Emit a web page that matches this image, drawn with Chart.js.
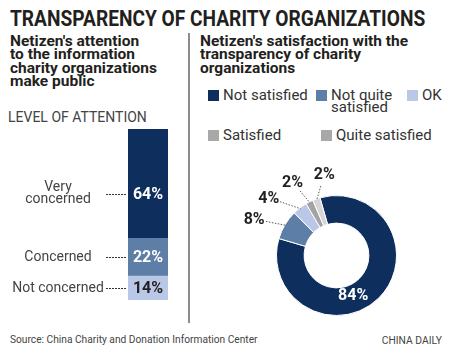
<!DOCTYPE html>
<html>
<head>
<meta charset="utf-8">
<script src="https://cdn.jsdelivr.net/npm/chart.js@4.4.1/dist/chart.umd.min.js"></script>
<style>
  html, body { margin: 0; padding: 0; background: #fff; }
  body { width: 450px; height: 354px; position: relative; overflow: hidden; font-family: Roboto, "Open Sans", sans-serif; color: #231f20; }
  .abs { position: absolute; }
  #title { left: 10px; top: 6px; font-size: 22px; font-weight: 700; white-space: nowrap; transform-origin: 0 0; }
  .sub { top: 35px; font-size: 15.5px; font-weight: 700; line-height: 13.4px; white-space: nowrap; }
  #subLeft { left: 10px; }
  #subRight { left: 200px; }
  #divider { left: 188px; top: 33px; width: 2px; height: 290px; background: #8c8c8c; }
  #levelTitle { left: 8px; top: 109px; font-size: 14px; color: #444; white-space: nowrap; }
  .leg { position: absolute; font-size: 15px; line-height: 12px; color: #333; white-space: nowrap; }
  .leg i { position: absolute; left: 0; top: 1px; width: 11px; height: 11px; }
  .leg span { position: absolute; left: 15px; top: 0; }
  #source { left: 10px; top: 334px; font-size: 10.2px; color: #444; white-space: nowrap; }
  #brand { right: 8px; top: 334px; font-size: 10.3px; color: #444; white-space: nowrap; }
  #barWrap { left: 0; top: 129px; width: 188px; height: 171px; }
  #pieWrap { left: 192px; top: 150px; width: 258px; height: 180px; }
</style>
</head>
<body>
<div id="title" class="abs">TRANSPARENCY OF CHARITY ORGANIZATIONS</div>
<div id="subLeft" class="abs sub">Netizen's attention<br>to the information<br>charity organizations<br>make public</div>
<div id="subRight" class="abs sub">Netizen's satisfaction with the<br>transparency of charity<br>organizations</div>
<div id="divider" class="abs"></div>
<div id="levelTitle" class="abs">LEVEL OF ATTENTION</div>
<div id="legend"></div>
<div id="barWrap" class="abs"><canvas id="barChart" width="188" height="171"></canvas></div>
<div id="pieWrap" class="abs"><canvas id="pieChart" width="258" height="180"></canvas></div>
<div id="source" class="abs">Source: China Charity and Donation Information Center</div>
<div id="brand" class="abs">CHINA DAILY</div>

<script>
// attention levels, top of bar to bottom
const attentionLevels = [['Very', 'concerned'], ['Concerned'], ['Not concerned']];
const attentionValues = [64, 22, 14];

// satisfaction split
const satisfactionLabels = ['Not satisfied', ['Not quite', 'satisfied'], 'OK', 'Satisfied', 'Quite satisfied'];
const satisfactionValues = [84, 8, 4, 2, 2];

const barColors = ['#0e2f5e', '#5d7ea6', '#b8c8e6'];
const barLabelColors = ['#fff', '#fff', '#231f20'];
const pieColors = ['#0e2f5e', '#5d7ea6', '#b8c8e6', '#a3a3a3', '#d6d6d6'];
const legendColors = ['#0e2f5e', '#5d7ea6', '#b8c8e6', '#a8a8a8', '#a8a8a8'];
const legendPos = [[208, 89], [316, 89], [407, 89], [208, 129], [321, 129]];

// squeeze the title to the reference width (font is wider than the original)
const titleEl = document.getElementById('title');
titleEl.style.transform = 'scaleX(' + (415 / titleEl.scrollWidth) + ')';

// html legend
const legendEl = document.getElementById('legend');
satisfactionLabels.forEach((lbl, i) => {
  const d = document.createElement('div');
  d.className = 'leg';
  d.style.left = legendPos[i][0] + 'px';
  d.style.top = legendPos[i][1] + 'px';
  const text = Array.isArray(lbl) ? lbl.join('<br>') : lbl;
  d.innerHTML = '<i style="background:' + legendColors[i] + '"></i><span>' + text + '</span>';
  legendEl.appendChild(d);
});

const font = 'Roboto, "Open Sans", sans-serif';

// labels and dotted leaders for the stacked bar
const barLabels = {
  id: 'barLabels',
  afterDatasetsDraw(chart) {
    const ctx = chart.ctx;
    const n = attentionValues.length;
    const shift = [10, 0, 0];
    ctx.save();
    for (let i = 0; i < n; i++) {
      // datasets are stacked bottom-up, so reverse index
      const meta = chart.getDatasetMeta(n - 1 - i);
      const bar = meta.data[0];
      const left = bar.x - bar.width / 2;
      const y = (bar.y + bar.base) / 2 + shift[i];
      ctx.font = 'bold 16px ' + font;
      ctx.fillStyle = barLabelColors[i];
      ctx.textAlign = 'center';
      ctx.textBaseline = 'middle';
      ctx.fillText(attentionValues[i] + '%', bar.x, y + 1);

      const lines = attentionLevels[i];
      ctx.font = '14px ' + font;
      ctx.fillStyle = '#444';
      const lh = 12;
      let maxRight = 0;
      lines.forEach((ln, k) => {
        const ly = y + (k - (lines.length - 1) / 2) * lh;
        ctx.fillText(ln, 58, ly);
        maxRight = Math.max(maxRight, 58 + ctx.measureText(ln).width / 2);
      });
      ctx.strokeStyle = '#333';
      ctx.lineWidth = 1;
      ctx.setLineDash([2, 1]);
      ctx.beginPath();
      ctx.moveTo(Math.max(106, maxRight + 1), Math.round(y) + 0.5);
      ctx.lineTo(left - 1, Math.round(y) + 0.5);
      ctx.stroke();
    }
    ctx.restore();
  }
};

new Chart(document.getElementById('barChart'), {
  type: 'bar',
  data: {
    labels: [''],
    datasets: attentionLevels.map((lvl, i) => ({
      label: lvl.join(' '),
      data: [attentionValues[i]],
      backgroundColor: barColors[i],
      barPercentage: 1,
      categoryPercentage: 1
    })).reverse()
  },
  options: {
    responsive: false,
    animation: false,
    layout: { padding: { left: 128, right: 20, top: 0, bottom: 0 } },
    plugins: { legend: { display: false }, tooltip: { enabled: false } },
    scales: {
      x: { stacked: true, display: false },
      y: { stacked: true, display: false, min: 0, max: 100 }
    }
  },
  plugins: [barLabels]
});

// percentage labels and leaders for the doughnut
const pieLabels = {
  id: 'pieLabels',
  afterDatasetsDraw(chart) {
    const ctx = chart.ctx;
    const arcs = chart.getDatasetMeta(0).data;
    const angleShift = [22, -7, -12, -4, 11];
    const radiusAdd = [-17, 30, 29, 26, 22];
    ctx.save();
    arcs.forEach((arc, i) => {
      const mid = (arc.startAngle + arc.endAngle) / 2;
      const a = mid + angleShift[i] * Math.PI / 180;
      const inside = i === 0;
      const r = arc.outerRadius + radiusAdd[i];
      const lx = arc.x + Math.cos(a) * r;
      const ly = arc.y + Math.sin(a) * r;
      if (!inside) {
        const tx = arc.x + Math.cos(mid) * (arc.outerRadius - 1);
        const ty = arc.y + Math.sin(mid) * (arc.outerRadius - 1);
        const dx = tx - lx, dy = ty - ly;
        const len = Math.hypot(dx, dy);
        ctx.strokeStyle = '#555';
        ctx.lineWidth = 1;
        ctx.setLineDash([1.5, 1.5]);
        ctx.beginPath();
        ctx.moveTo(lx + dx / len * 12, ly + dy / len * 12);
        ctx.lineTo(tx, ty);
        ctx.stroke();
      }
      ctx.font = 'bold 16px ' + font;
      ctx.fillStyle = inside ? '#fff' : '#231f20';
      ctx.textAlign = 'center';
      ctx.textBaseline = 'middle';
      ctx.fillText(satisfactionValues[i] + '%', lx, ly + 1);
    });
    ctx.restore();
  }
};

new Chart(document.getElementById('pieChart'), {
  type: 'doughnut',
  data: {
    labels: satisfactionLabels.map(l => Array.isArray(l) ? l.join(' ') : l),
    datasets: [{
      data: satisfactionValues,
      backgroundColor: pieColors,
      borderColor: '#fff',
      borderWidth: 1
    }]
  },
  options: {
    responsive: false,
    animation: false,
    rotation: -16,
    cutout: '54%',
    layout: { padding: { left: 84, right: 53, top: 45, bottom: 14 } },
    plugins: { legend: { display: false }, tooltip: { enabled: false } }
  },
  plugins: [pieLabels]
});
</script>
</body>
</html>
